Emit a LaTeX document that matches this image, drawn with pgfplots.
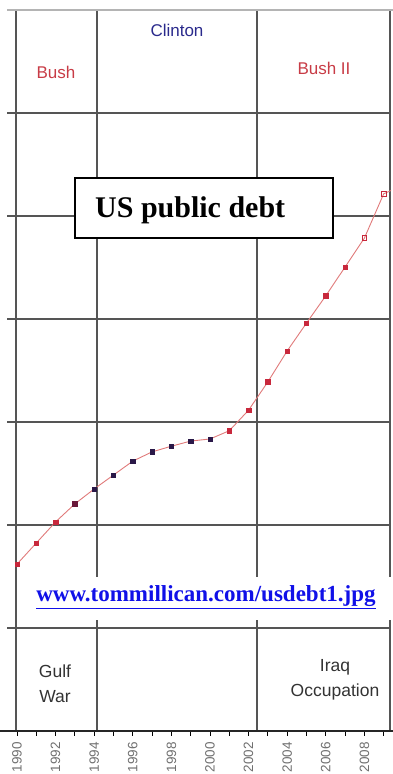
\documentclass[border=0pt]{standalone}
\usepackage{pgfplots}
\pgfplotsset{compat=1.18}
\usepackage{pgfplotstable}
\usepackage{fontspec}
\setmainfont{Liberation Serif}
\newfontfamily\arial{Liberation Sans}
\definecolor{gridc}{HTML}{555555}
\definecolor{topc}{HTML}{B4B4B4}
\definecolor{linered}{HTML}{E07A7A}
\definecolor{mred}{HTML}{C8283C}
\definecolor{mmaroon}{HTML}{6A1838}
\definecolor{mnavy}{HTML}{2A1848}
\definecolor{bushc}{HTML}{C83C46}
\definecolor{clintc}{HTML}{2A2A8C}
\definecolor{warc}{HTML}{333333}
\definecolor{urlc}{HTML}{1010E8}
\definecolor{tickc}{HTML}{707070}

\pgfplotstableread{
year debt
1990 3.24
1991 3.65
1992 4.06
1993 4.41
1994 4.70
1995 4.97
1996 5.24
1997 5.42
1998 5.53
1999 5.63
2000 5.67
2001 5.83
2002 6.23
2003 6.78
2004 7.38
2005 7.92
2006 8.45
2007 9.01
2008 9.57
2009 10.43
2010 10.60
}\debtline

\pgfplotstableread{
year debt cls
1990 3.24 a
1991 3.65 a
1992 4.06 a
1993 4.41 b
1994 4.70 c
1995 4.97 c
1996 5.24 c
1997 5.42 c
1998 5.53 c
1999 5.63 c
2000 5.67 c
2001 5.83 a
2002 6.23 a
2003 6.78 a
2004 7.38 a
2005 7.92 a
2006 8.45 a
2007 9.01 a
2008 9.57 d
2009 10.43 d
}\debtmarks

\begin{document}
\begin{tikzpicture}
\useasboundingbox (-7pt,-43pt) rectangle (386pt,731pt);
\begin{axis}[
  at={(0pt,0pt)}, anchor=south west,
  scale only axis, width=384pt, height=721pt,
  xmin=1989.482, xmax=2009.38, ymin=0, ymax=14,
  axis line style={draw=none},
  ytick={2,4,6,8,10,12}, yticklabels={}, ymajorgrids,
  major y tick style={draw=none},
  grid style={gridc, line width=1.3pt},
  xtick={1990,1992,...,2008},
  minor xtick={1991,1993,...,2009},
  xtick pos=bottom, tick align=outside,
  major tick length=5pt, minor tick length=5pt,
  x tick style={black, line width=0.8pt},
  minor x tick style={black, line width=0.8pt},
  xticklabel style={rotate=90, anchor=east, font=\arial\fontsize{13.5}{15}\selectfont, text=tickc, inner sep=2pt, xshift=-4pt},
  /pgf/number format/assume math mode=true,
  /pgf/number format/1000 sep={},
  clip=true,
]
% vertical dividers
\draw[gridc, line width=1.3pt] (axis cs:1989.95,0) -- (axis cs:1989.95,14);
\draw[gridc, line width=1.3pt] (axis cs:1994.15,0) -- (axis cs:1994.15,14);
\draw[gridc, line width=1.3pt] (axis cs:2002.44,0) -- (axis cs:2002.44,14);
\draw[gridc, line width=1.3pt] (axis cs:2009.33,0) -- (axis cs:2009.33,14);

\addplot[color=linered, line width=0.9pt, mark=none] table[x=year,y=debt]{\debtline};
\addplot[scatter, only marks, scatter src=explicit symbolic,
  scatter/classes={
    a={mark=square*, mark size=2.2pt, draw=mred, fill=mred},
    b={mark=square*, mark size=2.2pt, draw=mmaroon, fill=mmaroon},
    c={mark=square*, mark size=2.2pt, draw=mnavy, fill=mnavy},
    d={mark=square, mark size=2.4pt, draw=mred, fill=white, line width=0.7pt}}]
  table[x=year,y=debt,meta=cls]{\debtmarks};
\end{axis}
% top and bottom lines
\draw[topc, line width=1.3pt] (0pt,721pt) -- (386pt,721pt);
\draw[black!85, line width=1.2pt] (-7pt,0pt) -- (386pt,0pt);
% URL white cover
\fill[white] (18pt,111pt) rectangle (386pt,154pt);
\node[font=\bfseries\fontsize{23}{26}\selectfont, text=urlc] at (199pt,134pt) {\underline{www.tommillican.com/usdebt1.jpg}};
% title box
\draw[black, fill=white, line width=2pt] (68pt,493pt) rectangle (326pt,553pt);
\node[anchor=west, font=\bfseries\fontsize{30}{34}\selectfont, inner sep=0pt] at (88pt,521pt) {US public debt};
% presidency labels
\node[font=\arial\fontsize{17}{20}\selectfont, text=clintc] at (170pt,701pt) {Clinton};
\node[font=\arial\fontsize{17}{20}\selectfont, text=bushc] at (49pt,659pt) {Bush};
\node[font=\arial\fontsize{17}{20}\selectfont, text=bushc] at (317pt,663pt) {Bush II};
\node[font=\arial\fontsize{17.5}{25}\selectfont, text=warc, align=center] at (48pt,47pt) {Gulf\\War};
\node[font=\arial\fontsize{17.5}{25}\selectfont, text=warc, align=center] at (328pt,51pt) {Iraq\\Occupation};
\end{tikzpicture}
\end{document}
